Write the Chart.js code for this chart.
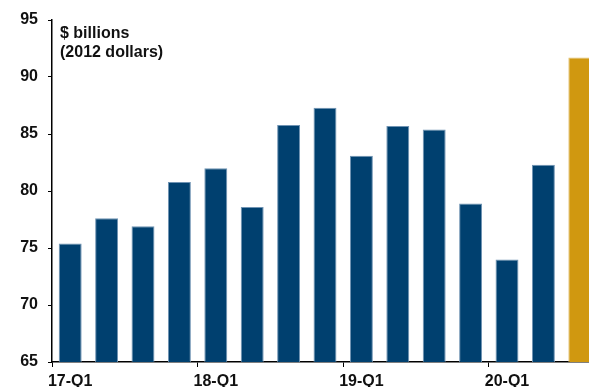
<!DOCTYPE html>
<html>
<head>
<meta charset="utf-8">
<script src="https://cdn.jsdelivr.net/npm/chart.js@4"></script>
<style>
  html, body { margin: 0; padding: 0; overflow: hidden; background: #fff; }
  #wrap { width: 600px; height: 395px; }
</style>
</head>
<body>
<div id="wrap"><canvas id="chart" width="600" height="395"></canvas></div>
<script>
const quarters = ['17-Q1','17-Q2','17-Q3','17-Q4','18-Q1','18-Q2','18-Q3','18-Q4',
                  '19-Q1','19-Q2','19-Q3','19-Q4','20-Q1','20-Q2','20-Q3'];
const values = [75.4, 77.6, 76.9, 80.8, 82.0, 78.6, 85.8, 87.3,
                83.1, 85.7, 85.4, 78.9, 74.0, 82.3, 91.7];
const yTicks = [65, 70, 75, 80, 85, 90, 95];

const navy = '#00406F';
const gold = '#D09810';
const barColors = values.map((v, i) => i === values.length - 1 ? gold : navy);
const barBorders = values.map((v, i) => i === values.length - 1 ? '#E2BE6A' : '#6F93B3');
const fontFamily = '"Liberation Sans", Arial, sans-serif';

// unit note drawn inside the plot, top left
const unitLabel = {
  id: 'unitLabel',
  afterDraw(chart) {
    const ctx = chart.ctx;
    const a = chart.chartArea;
    ctx.save();
    ctx.fillStyle = '#111';
    ctx.font = 'bold 16px ' + fontFamily;
    ctx.textBaseline = 'top';
    ctx.fillText('$ billions', a.left + 8, a.top + 6);
    ctx.fillText('(2012 dollars)', a.left + 8, a.top + 25);
    ctx.restore();
  }
};

const ctx = document.getElementById('chart').getContext('2d');
new Chart(ctx, {
  type: 'bar',
  data: {
    labels: quarters,
    datasets: [{
      data: values,
      backgroundColor: barColors,
      borderColor: barBorders,
      borderWidth: 1,
      categoryPercentage: 1,
      barPercentage: 0.63
    }]
  },
  options: {
    responsive: false,
    animation: false,
    layout: { padding: { top: 20, left: 0, right: 2, bottom: 0 } },
    plugins: {
      legend: { display: false },
      tooltip: { enabled: false }
    },
    scales: {
      x: {
        offset: true,
        grid: {
          offset: true,
          drawOnChartArea: false,
          tickLength: 5,
          color: (c) => c.index % 4 === 0 ? '#000' : 'rgba(0,0,0,0)'
        },
        border: { color: '#000', width: 1.5 },
        ticks: {
          autoSkip: false,
          maxRotation: 0,
          padding: 5,
          color: '#111',
          font: { family: fontFamily, size: 16, weight: 'bold' },
          callback: function (value, index) {
            return index % 4 === 0 ? this.getLabelForValue(value) : '';
          }
        },
        afterFit: (scale) => { scale.height = 33; }
      },
      y: {
        min: 65,
        max: 95,
        afterBuildTicks: (scale) => { scale.ticks = yTicks.map(v => ({ value: v })); },
        grid: {
          drawOnChartArea: false,
          tickLength: 4,
          color: '#000'
        },
        border: { color: '#000', width: 1.5 },
        ticks: {
          padding: 10,
          color: '#111',
          font: { family: fontFamily, size: 16, weight: 'bold' }
        },
        afterFit: (scale) => { scale.width = 52; }
      }
    }
  },
  plugins: [unitLabel]
});
</script>
</body>
</html>
